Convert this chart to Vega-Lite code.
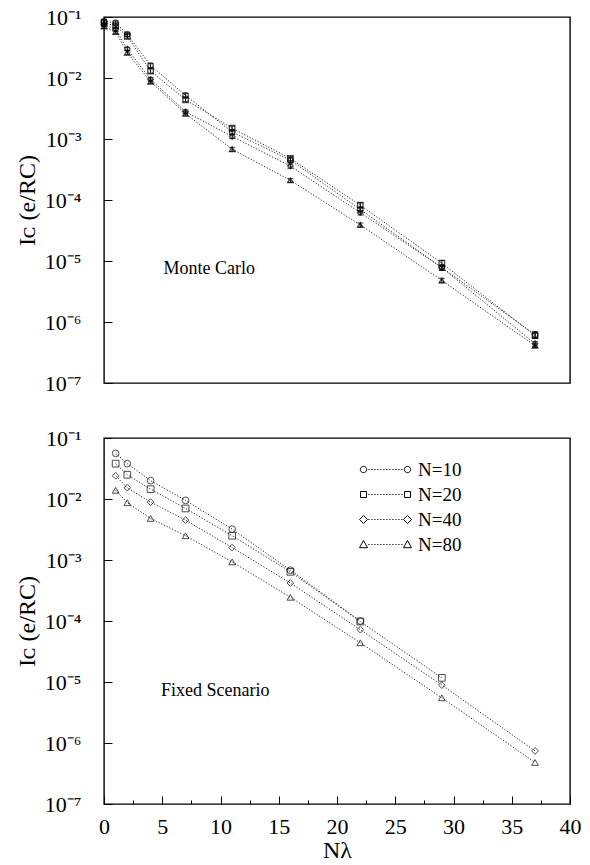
{
  "$schema": "https://vega.github.io/schema/vega-lite/v6.json",
  "background": "white",
  "padding": {"left": 14, "top": 5, "right": 0, "bottom": 0},
  "spacing": 31,
  "config": {
    "font": "Liberation Serif",
    "view": {"stroke": "black", "strokeWidth": 1.4},
    "axis": {
      "domain": false,
      "grid": false,
      "labelFont": "Liberation Serif",
      "labelFontSize": 22,
      "labelColor": "black",
      "titleFont": "Liberation Serif",
      "titleFontSize": 24,
      "titleFontWeight": "normal",
      "titleColor": "black",
      "tickColor": "black",
      "tickWidth": 1
    },
    "legend": {"labelFont": "Liberation Serif", "labelColor": "black"},
    "text": {"font": "Liberation Serif"}
  },
  "datasets": {
    "monteCarlo": [
      {"n": "N=10", "x": 0, "y": 0.085, "lo": 0.079, "hi": 0.091},
      {"n": "N=10", "x": 1, "y": 0.080, "lo": 0.074, "hi": 0.086},
      {"n": "N=10", "x": 2, "y": 0.052, "lo": 0.048, "hi": 0.056},
      {"n": "N=10", "x": 4, "y": 0.016, "lo": 0.0148, "hi": 0.0172},
      {"n": "N=10", "x": 7, "y": 0.0052, "lo": 0.0048, "hi": 0.0056},
      {"n": "N=10", "x": 11, "y": 0.0013, "lo": 0.0012, "hi": 0.0014},
      {"n": "N=10", "x": 16, "y": 0.00045, "lo": 0.00041, "hi": 0.00049},
      {"n": "N=10", "x": 22, "y": 0.00007, "lo": 0.000064, "hi": 0.000076},
      {"n": "N=10", "x": 29, "y": 0.0000078, "lo": 0.0000070, "hi": 0.0000086},
      {"n": "N=10", "x": 37, "y": 6.2e-7, "lo": 5.5e-7, "hi": 7.0e-7},
      {"n": "N=20", "x": 0, "y": 0.080, "lo": 0.074, "hi": 0.086},
      {"n": "N=20", "x": 1, "y": 0.072, "lo": 0.067, "hi": 0.077},
      {"n": "N=20", "x": 2, "y": 0.048, "lo": 0.044, "hi": 0.052},
      {"n": "N=20", "x": 4, "y": 0.013, "lo": 0.012, "hi": 0.014},
      {"n": "N=20", "x": 7, "y": 0.0044, "lo": 0.0041, "hi": 0.0047},
      {"n": "N=20", "x": 11, "y": 0.0015, "lo": 0.00138, "hi": 0.00162},
      {"n": "N=20", "x": 16, "y": 0.00048, "lo": 0.00044, "hi": 0.00052},
      {"n": "N=20", "x": 22, "y": 0.000082, "lo": 0.000075, "hi": 0.000089},
      {"n": "N=20", "x": 29, "y": 0.0000092, "lo": 0.0000082, "hi": 0.0000102},
      {"n": "N=20", "x": 37, "y": 6.0e-7, "lo": 5.4e-7, "hi": 6.6e-7},
      {"n": "N=40", "x": 0, "y": 0.075, "lo": 0.070, "hi": 0.080},
      {"n": "N=40", "x": 1, "y": 0.063, "lo": 0.058, "hi": 0.068},
      {"n": "N=40", "x": 2, "y": 0.030, "lo": 0.028, "hi": 0.032},
      {"n": "N=40", "x": 4, "y": 0.0095, "lo": 0.0088, "hi": 0.0102},
      {"n": "N=40", "x": 7, "y": 0.0028, "lo": 0.0026, "hi": 0.0030},
      {"n": "N=40", "x": 11, "y": 0.0011, "lo": 0.00102, "hi": 0.00118},
      {"n": "N=40", "x": 16, "y": 0.00036, "lo": 0.00033, "hi": 0.00039},
      {"n": "N=40", "x": 22, "y": 0.000062, "lo": 0.000057, "hi": 0.000067},
      {"n": "N=40", "x": 29, "y": 0.0000078, "lo": 0.0000071, "hi": 0.0000085},
      {"n": "N=40", "x": 37, "y": 4.4e-7, "lo": 4.0e-7, "hi": 4.8e-7},
      {"n": "N=80", "x": 0, "y": 0.070, "lo": 0.065, "hi": 0.075},
      {"n": "N=80", "x": 1, "y": 0.057, "lo": 0.053, "hi": 0.061},
      {"n": "N=80", "x": 2, "y": 0.026, "lo": 0.024, "hi": 0.028},
      {"n": "N=80", "x": 4, "y": 0.0087, "lo": 0.0081, "hi": 0.0093},
      {"n": "N=80", "x": 7, "y": 0.0026, "lo": 0.0024, "hi": 0.0028},
      {"n": "N=80", "x": 11, "y": 0.00068, "lo": 0.00063, "hi": 0.00073},
      {"n": "N=80", "x": 16, "y": 0.00021, "lo": 0.000195, "hi": 0.000225},
      {"n": "N=80", "x": 22, "y": 0.000039, "lo": 0.000036, "hi": 0.000042},
      {"n": "N=80", "x": 29, "y": 0.0000048, "lo": 0.0000044, "hi": 0.0000052},
      {"n": "N=80", "x": 37, "y": 4.1e-7, "lo": 3.8e-7, "hi": 4.4e-7}
    ],
    "fixed": [
      {"n": "N=10", "x": 1, "y": 0.056},
      {"n": "N=10", "x": 2, "y": 0.038},
      {"n": "N=10", "x": 4, "y": 0.020},
      {"n": "N=10", "x": 7, "y": 0.0095},
      {"n": "N=10", "x": 11, "y": 0.0032},
      {"n": "N=10", "x": 16, "y": 0.00068},
      {"n": "N=10", "x": 22, "y": 0.0001},
      {"n": "N=20", "x": 1, "y": 0.038},
      {"n": "N=20", "x": 2, "y": 0.025},
      {"n": "N=20", "x": 4, "y": 0.0145},
      {"n": "N=20", "x": 7, "y": 0.0070},
      {"n": "N=20", "x": 11, "y": 0.0025},
      {"n": "N=20", "x": 16, "y": 0.00064},
      {"n": "N=20", "x": 22, "y": 0.000098},
      {"n": "N=20", "x": 29, "y": 0.0000117},
      {"n": "N=40", "x": 1, "y": 0.024},
      {"n": "N=40", "x": 2, "y": 0.0153},
      {"n": "N=40", "x": 4, "y": 0.0089},
      {"n": "N=40", "x": 7, "y": 0.0045},
      {"n": "N=40", "x": 11, "y": 0.0016},
      {"n": "N=40", "x": 16, "y": 0.00042},
      {"n": "N=40", "x": 22, "y": 0.000072},
      {"n": "N=40", "x": 29, "y": 0.0000089},
      {"n": "N=40", "x": 37, "y": 7.4e-7},
      {"n": "N=80", "x": 1, "y": 0.0139},
      {"n": "N=80", "x": 2, "y": 0.0087},
      {"n": "N=80", "x": 4, "y": 0.0048},
      {"n": "N=80", "x": 7, "y": 0.0025},
      {"n": "N=80", "x": 11, "y": 0.00093},
      {"n": "N=80", "x": 16, "y": 0.000245},
      {"n": "N=80", "x": 22, "y": 0.000044},
      {"n": "N=80", "x": 29, "y": 0.0000055},
      {"n": "N=80", "x": 37, "y": 4.8e-7}
    ]
  },
  "vconcat": [
    {
      "width": 466,
      "height": 366,
      "data": {"name": "monteCarlo"},
      "encoding": {
        "x": {"field": "x", "type": "quantitative", "scale": {"domain": [0, 40], "nice": false, "zero": false}, "axis": null},
        "y": {
          "field": "y", "type": "quantitative",
          "scale": {"type": "log", "domain": [1e-7, 0.1], "nice": false},
          "axis": {
            "values": [1e-7, 1e-6, 1e-5, 1e-4, 1e-3, 1e-2, 1e-1],
            "labelExpr": "'10' + ['⁻⁷','⁻⁶','⁻⁵','⁻⁴','⁻³','⁻²','⁻¹'][round(log(datum.value)/LN10) + 7]",
            "tickSize": -8,
            "labelPadding": 31,
            "title": "Iᴄ  (e/RC)",
            "titlePadding": 5,
            "encode": {
              "labels": {"update": {"font": {"value": "Liberation Serif"}}},
              "title": {"update": {"font": {"value": "Liberation Serif"}}}
            }
          }
        }
      },
      "layer": [
        {
          "mark": {"type": "line", "strokeDash": [1.2, 1.8], "strokeWidth": 1, "color": "#222"},
          "encoding": {"detail": {"field": "n"}}
        },
        {
          "mark": {"type": "errorbar", "ticks": {"size": 6, "color": "black"}, "color": "black", "thickness": 1},
          "encoding": {
            "y": {"field": "lo", "type": "quantitative"},
            "y2": {"field": "hi"},
            "detail": {"field": "n"}
          }
        },
        {
          "mark": {"type": "point", "filled": false, "color": "black", "size": 30, "strokeWidth": 1.3},
          "encoding": {
            "shape": {
              "field": "n", "type": "nominal",
              "scale": {"domain": ["N=10", "N=20", "N=40", "N=80"], "range": ["circle", "square", "diamond", "triangle-up"]},
              "legend": null
            }
          }
        },
        {
          "data": {"values": [{"x": 5.1, "y": 7.4e-6, "label": "Monte Carlo"}]},
          "mark": {"type": "text", "align": "left", "baseline": "middle", "fontSize": 18, "color": "black"},
          "encoding": {"text": {"field": "label"}}
        }
      ]
    },
    {
      "width": 466,
      "height": 366,
      "data": {"name": "fixed"},
      "encoding": {
        "x": {
          "field": "x", "type": "quantitative",
          "scale": {"domain": [0, 40], "nice": false, "zero": false},
          "axis": {
            "values": [0, 2.5, 5, 7.5, 10, 12.5, 15, 17.5, 20, 22.5, 25, 27.5, 30, 32.5, 35, 37.5, 40],
            "labelExpr": "datum.value % 5 === 0 ? datum.label : ''",
            "tickSize": {"condition": {"test": "datum.value % 5 === 0", "value": -8}, "value": -4},
            "labelPadding": 20,
            "labelFlush": false,
            "labelOverlap": false,
            "title": "Nλ",
            "titlePadding": -3,
            "encode": {
              "labels": {"update": {"font": {"value": "Liberation Serif"}}},
              "title": {"update": {"font": {"value": "Liberation Serif"}}}
            }
          }
        },
        "y": {
          "field": "y", "type": "quantitative",
          "scale": {"type": "log", "domain": [1e-7, 0.1], "nice": false},
          "axis": {
            "values": [1e-7, 1e-6, 1e-5, 1e-4, 1e-3, 1e-2, 1e-1],
            "labelExpr": "'10' + ['⁻⁷','⁻⁶','⁻⁵','⁻⁴','⁻³','⁻²','⁻¹'][round(log(datum.value)/LN10) + 7]",
            "tickSize": -8,
            "labelPadding": 31,
            "title": "Iᴄ  (e/RC)",
            "titlePadding": 5,
            "encode": {
              "labels": {"update": {"font": {"value": "Liberation Serif"}}},
              "title": {"update": {"font": {"value": "Liberation Serif"}}}
            }
          }
        }
      },
      "resolve": {"scale": {"shape": "independent"}},
      "layer": [
        {
          "mark": {"type": "line", "strokeDash": [1.2, 1.8], "strokeWidth": 1, "color": "#222"},
          "encoding": {"detail": {"field": "n"}}
        },
        {
          "mark": {"type": "point", "filled": false, "color": "black", "size": 45, "strokeWidth": 1},
          "encoding": {
            "shape": {
              "field": "n", "type": "nominal",
              "scale": {"domain": ["N=10", "N=20", "N=40", "N=80"], "range": ["circle", "square", "diamond", "triangle-up"]},
              "legend": null
            }
          }
        },
        {
          "mark": {"type": "point", "filled": false, "color": "black", "opacity": 0, "size": 64},
          "encoding": {
            "shape": {
              "field": "n", "type": "nominal",
              "scale": {
                "domain": ["N=10", "N=20", "N=40", "N=80"],
                "range": [
                  "M-0.8,0A0.8,0.8 0 1,0 0.8,0A0.8,0.8 0 1,0 -0.8,0M1.2,0H1.5M1.95,0H2.25M2.7,0H3M3.45,0H3.75M4.2,0H4.5M4.95,0H5.25M5.7,0H6M6.45,0H6.75M7.2,0H7.5M7.95,0H8.25M8.7,0H9M9.45,0H9.75M10.2,0A0.8,0.8 0 1,0 11.8,0A0.8,0.8 0 1,0 10.2,0",
                  "M-0.75,-0.75H0.75V0.75H-0.75ZM1.2,0H1.5M1.95,0H2.25M2.7,0H3M3.45,0H3.75M4.2,0H4.5M4.95,0H5.25M5.7,0H6M6.45,0H6.75M7.2,0H7.5M7.95,0H8.25M8.7,0H9M9.45,0H9.75M10.25,-0.75H11.75V0.75H10.25Z",
                  "M0,-1L1,0L0,1L-1,0ZM1.2,0H1.5M1.95,0H2.25M2.7,0H3M3.45,0H3.75M4.2,0H4.5M4.95,0H5.25M5.7,0H6M6.45,0H6.75M7.2,0H7.5M7.95,0H8.25M8.7,0H9M9.45,0H9.75M11,-1L12,0L11,1L10,0Z",
                  "M0,-1L1,0.8H-1ZM1.2,0H1.5M1.95,0H2.25M2.7,0H3M3.45,0H3.75M4.2,0H4.5M4.95,0H5.25M5.7,0H6M6.45,0H6.75M7.2,0H7.5M7.95,0H8.25M8.7,0H9M9.45,0H9.75M11,-1L12,0.8H10Z"
                ]
              },
              "legend": {
                "title": null,
                "orient": "none",
                "legendX": 250,
                "legendY": 22,
                "symbolSize": 64,
                "symbolOpacity": 1,
                "symbolStrokeColor": "black",
                "symbolFillColor": "transparent",
                "symbolStrokeWidth": 1,
                "labelFontSize": 19,
                "labelOffset": 45,
                "rowPadding": 5,
                "encode": {"labels": {"update": {"font": {"value": "Liberation Serif"}}}}
              }
            }
          }
        },
        {
          "data": {"values": [{"x": 4.9, "y": 7.1e-6, "label": "Fixed Scenario"}]},
          "mark": {"type": "text", "align": "left", "baseline": "middle", "fontSize": 18, "color": "black"},
          "encoding": {"text": {"field": "label"}}
        }
      ]
    }
  ]
}
